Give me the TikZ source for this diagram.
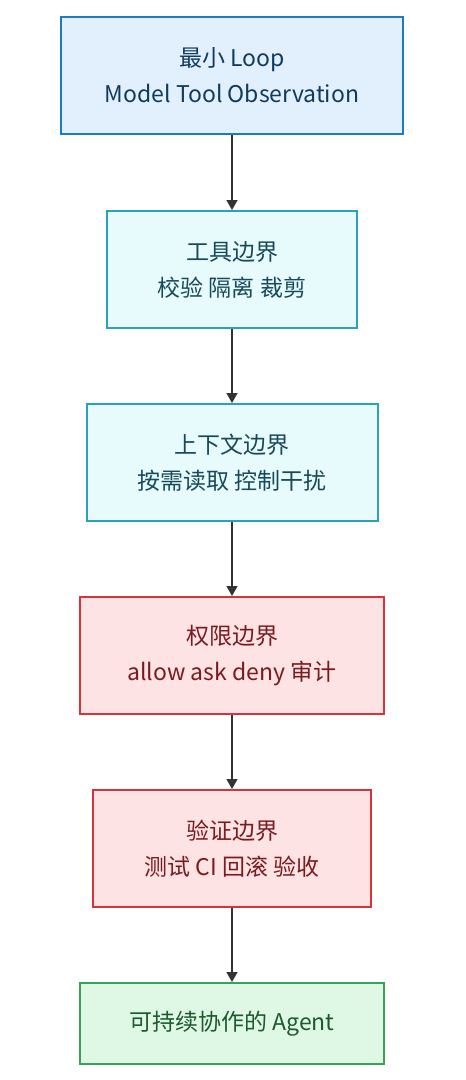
\documentclass[tikz,border=0pt]{standalone}
\usepackage{fontspec}
\setmainfont{Noto Sans CJK SC}
\usetikzlibrary{arrows.meta}
\definecolor{bBorder}{HTML}{1C7CC2}
\definecolor{bFill}{HTML}{E1F0FC}
\definecolor{bText}{HTML}{0F3B5F}
\definecolor{cBorder}{HTML}{2AA2BC}
\definecolor{cFill}{HTML}{E7FBFC}
\definecolor{cText}{HTML}{17495A}
\definecolor{rBorder}{HTML}{D6333A}
\definecolor{rFill}{HTML}{FDE3E3}
\definecolor{rText}{HTML}{7A1C1F}
\definecolor{gBorder}{HTML}{38A257}
\definecolor{gFill}{HTML}{DEF8E5}
\definecolor{gText}{HTML}{1D5A2E}
\definecolor{arrowc}{HTML}{333333}
\tikzset{
  x=1pt, y=-1pt,
  box/.style={draw, line width=2pt, inner sep=0pt, align=center, font=\fontsize{23}{36}\selectfont},
  bluebox/.style={box, draw=bBorder, fill=bFill, text=bText, line width=2.6pt},
  cyanbox/.style={box, draw=cBorder, fill=cFill, text=cText},
  redbox/.style={box, draw=rBorder, fill=rFill, text=rText},
  greenbox/.style={box, draw=gBorder, fill=gFill, text=gText},
  flow/.style={draw=arrowc, line width=1.5pt, -{Triangle[length=10pt,width=11pt]}, shorten >=0pt}
}
\begin{document}
\begin{tikzpicture}
\useasboundingbox (0,0) rectangle (466,1080);
\node[bluebox, minimum width=342pt, minimum height=117pt] (a) at (232,75.5) {最小 Loop\\Model Tool Observation};
\node[cyanbox, minimum width=250pt, minimum height=117pt] (b) at (232,269.5) {工具边界\\校验 隔离 裁剪};
\node[cyanbox, minimum width=291pt, minimum height=117pt] (c) at (232,462.5) {上下文边界\\按需读取 控制干扰};
\node[redbox, minimum width=304pt, minimum height=117pt] (d) at (232,655.5) {权限边界\\allow ask deny 审计};
\node[redbox, minimum width=278pt, minimum height=117pt] (e) at (232,848.5) {验证边界\\测试 CI 回滚 验收};
\node[greenbox, minimum width=304pt, minimum height=81pt] (f) at (232,1023.5) {可持续协作的 Agent};
\draw[flow] (a) -- (b);
\draw[flow] (b) -- (c);
\draw[flow] (c) -- (d);
\draw[flow] (d) -- (e);
\draw[flow] (e) -- (f);
\end{tikzpicture}
\end{document}
